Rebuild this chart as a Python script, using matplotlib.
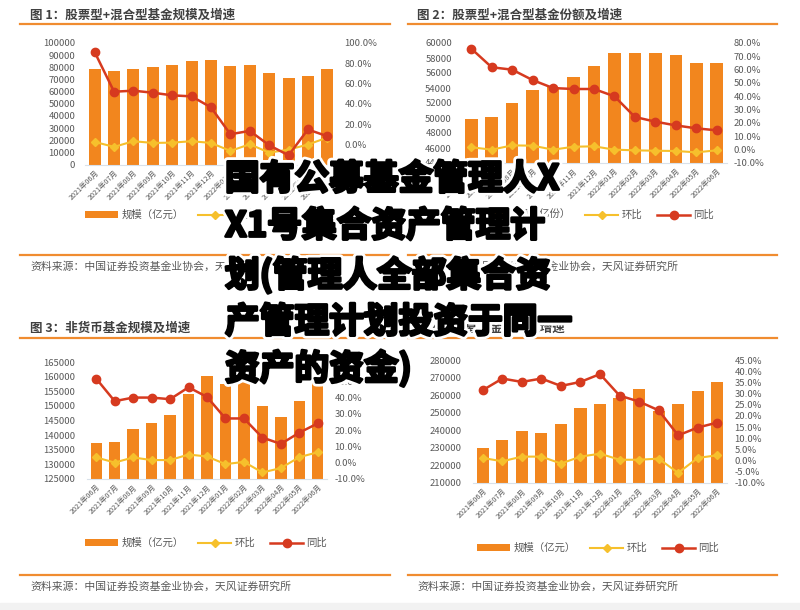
import matplotlib
matplotlib.use('Agg')
import matplotlib.pyplot as plt
import matplotlib.patheffects as pe
from matplotlib.lines import Line2D
from matplotlib.patches import Rectangle
import numpy as np

plt.rcParams['font.family'] = ['Noto Sans CJK SC', 'DejaVu Sans']

months = ['2021年06月', '2021年07月', '2021年08月', '2021年09月', '2021年10月', '2021年11月',
          '2021年12月', '2022年01月', '2022年02月', '2022年03月', '2022年04月', '2022年05月',
          '2022年06月']

# 图1 股票型+混合型基金规模（亿元）
p1_scale = [78600, 76700, 79000, 80400, 82300, 84800, 86400, 80700, 81500, 75500, 70800, 72700, 78500]
p1_mom = [2.3, -2.6, 3.0, 1.3, 1.6, 3.0, 1.3, -6.6, 0.0, -8.3, -5.3, -0.3, 6.6]
p1_yoy = [91.0, 51.9, 52.9, 50.9, 48.3, 47.3, 36.4, 9.9, 13.2, -1.0, -10.9, 14.6, 7.9]

# 图2 股票型+混合型基金份额（亿份）
p2_share = [49900, 50100, 52000, 53700, 54100, 55500, 56900, 58700, 58700, 58700, 58400, 57400, 57350]
p2_mom = [1.8, 0.0, 3.2, 3.0, 0.0, 2.2, 2.5, 0.0, -0.5, -0.8, -1.0, -2.0, -0.5]
p2_yoy = [75.8, 61.8, 60.0, 52.2, 46.2, 45.5, 45.5, 40.0, 24.5, 21.0, 18.2, 16.0, 14.5]

# 图3 非货币基金规模（亿元）
p3_scale = [137300, 137500, 142000, 144100, 146800, 154000, 160200, 157400, 158200, 150100, 146300, 151700, 161000]
p3_mom = [3.2, 0.1, 3.2, 1.6, 1.6, 5.0, 3.8, -0.9, 0.5, -6.0, -3.3, 3.4, 6.4]
p3_yoy = [51.5, 37.7, 39.9, 39.9, 38.9, 46.2, 40.3, 27.1, 27.1, 15.4, 11.5, 18.4, 24.1]

# 图4 公募基金规模（亿元）
p4_scale = [229900, 234600, 239700, 238400, 243600, 252700, 255000, 258200, 263300, 251000, 254800, 262200, 267600]
p4_mom = [1.2, -0.3, 1.8, 1.8, -1.3, 1.8, 3.1, 0.4, 0.4, 0.9, -5.5, 1.2, 2.4]
p4_yoy = [31.5, 36.7, 35.2, 36.7, 33.4, 35.2, 38.7, 29.1, 26.4, 22.5, 11.3, 14.8, 17.0]

titles = ['图 1：股票型+混合型基金规模及增速', '图 2：股票型+混合型基金份额及增速',
          '图 3：非货币基金规模及增速', '图 4：公募基金规模及增速']
bar_labels = ['规模（亿元）', '份额（亿份）', '规模（亿元）', '规模（亿元）']
source = '资料来源：中国证券投资基金业协会，天风证券研究所'

overlay_lines = ['国有公募基金管理人X', 'X1号集合资产管理计', '划(管理人全部集合资',
                 '产管理计划投资于同一', '资产的资金)']

ORANGE = '#F2861E'
RED = '#D63A1F'
YELLOW = '#F6C02C'
GRAY = '#595959'
SEP = '#F08C30'

W, H = 800, 610
fig = plt.figure(figsize=(8, 6.1), dpi=100)


def rect(x0, y0, x1, y1):
    return [x0 / W, 1 - y1 / H, (x1 - x0) / W, (y1 - y0) / H]


def hline(x0, x1, y):
    fig.add_artist(Line2D([x0 / W, x1 / W], [1 - y / H, 1 - y / H],
                          transform=fig.transFigure, color=SEP, lw=1.6))


def panel(box, bars, mom, yoy, yticks, rlim, rticks, blabel, leg_xy, lpad, rpad):
    ax = fig.add_axes(rect(*box))
    x = np.arange(len(months))
    ax.bar(x, bars, width=0.62, color=ORANGE, label=blabel, zorder=2)
    ax.set_xlim(-0.5, len(months) - 0.5)
    ax.set_ylim(yticks[0], yticks[-1])
    ax.set_yticks(yticks)
    ax.set_yticklabels([str(v) for v in yticks])
    ax.set_xticks(x)
    ax.set_xticklabels(months, rotation=45, ha='right', rotation_mode='anchor', fontsize=5.2)
    ax.tick_params(axis='y', length=0, pad=lpad, labelsize=6.8, labelcolor=GRAY)
    ax.tick_params(axis='x', length=0, pad=3, labelcolor=GRAY)
    for s in ['top', 'left', 'right']:
        ax.spines[s].set_visible(False)
    ax.spines['bottom'].set_color('#D9E1EA')

    ax2 = ax.twinx()
    ax2.plot(x, mom, color=YELLOW, marker='D', ms=4.5, lw=1.5, label='环比')
    ax2.plot(x, yoy, color=RED, marker='o', ms=6, lw=1.8, label='同比')
    ax2.set_ylim(rlim)
    ax2.set_yticks(rticks)
    ax2.set_yticklabels(['%.1f%%' % v for v in rticks])
    ax2.tick_params(axis='y', length=0, pad=rpad, labelsize=6.8, labelcolor=GRAY)
    for s in ax2.spines.values():
        s.set_visible(False)

    h1, l1 = ax.get_legend_handles_labels()
    h2, l2 = ax2.get_legend_handles_labels()
    fig.legend(h1 + h2, l1 + l2, loc='center', bbox_to_anchor=(leg_xy[0] / W, 1 - leg_xy[1] / H),
               ncol=3, frameon=False, fontsize=7.5, labelcolor=GRAY, handlelength=3.2,
               handleheight=0.6, columnspacing=1.4, handletextpad=0.3, numpoints=1)


# panel 1
panel((85, 43, 337, 164.5), p1_scale, p1_mom, p1_yoy,
      list(range(0, 100001, 10000)), (-20, 100), list(range(0, 101, 20)),
      bar_labels[0], (206, 215), 7, 5.5)
# panel 2
panel((461, 43, 727, 163), p2_share, p2_mom, p2_yoy,
      list(range(44000, 60001, 2000)), (-10, 80), list(range(-10, 81, 10)),
      bar_labels[1], (593, 215), 6.5, 4.5)
# panel 3
panel((87, 362, 327, 479), p3_scale, p3_mom, p3_yoy,
      list(range(125000, 165001, 5000)), (-10, 61.7), list(range(-10, 61, 10)),
      bar_labels[2], (206, 543), 8.5, 5.5)
# panel 4
panel((473, 360, 727, 483), p4_scale, p4_mom, p4_yoy,
      list(range(210000, 280001, 10000)), (-10, 45), list(range(-10, 46, 5)),
      bar_labels[3], (598, 548), 8, 5.5)

# titles, separators, sources
for (tx, ty, ly, x0, x1, sy, fy), t in zip(
        [(30, 15, 24, 20, 390, 255, 267), (417, 15, 24, 408, 777, 255, 267),
         (30, 328, 338, 20, 390, 575, 587), (417, 328, 338, 408, 777, 575, 587)], titles):
    fig.text(tx / W, 1 - ty / H, t, fontsize=9, fontweight='bold', color='#404040', va='center')
    hline(x0, x1, ly)
    hline(x0, x1, sy)
    fig.text(tx / W, 1 - fy / H, source, fontsize=7.8, color=GRAY, va='center')

fig.add_artist(Rectangle((0, 0), 1, 7 / H, transform=fig.transFigure, color='#F2F2F2', zorder=0))

# big overlay text
for line, yc in zip(overlay_lines, [179, 226, 275, 322, 368]):
    fig.text(225 / W, 1 - yc / H, line, fontsize=25, fontweight='heavy', color='black',
             va='center', ha='left', zorder=10,
             path_effects=[pe.Stroke(linewidth=6, foreground='white'),
                           pe.Stroke(linewidth=2, foreground='black'), pe.Normal()])

fig.savefig('out.png', dpi=100)
